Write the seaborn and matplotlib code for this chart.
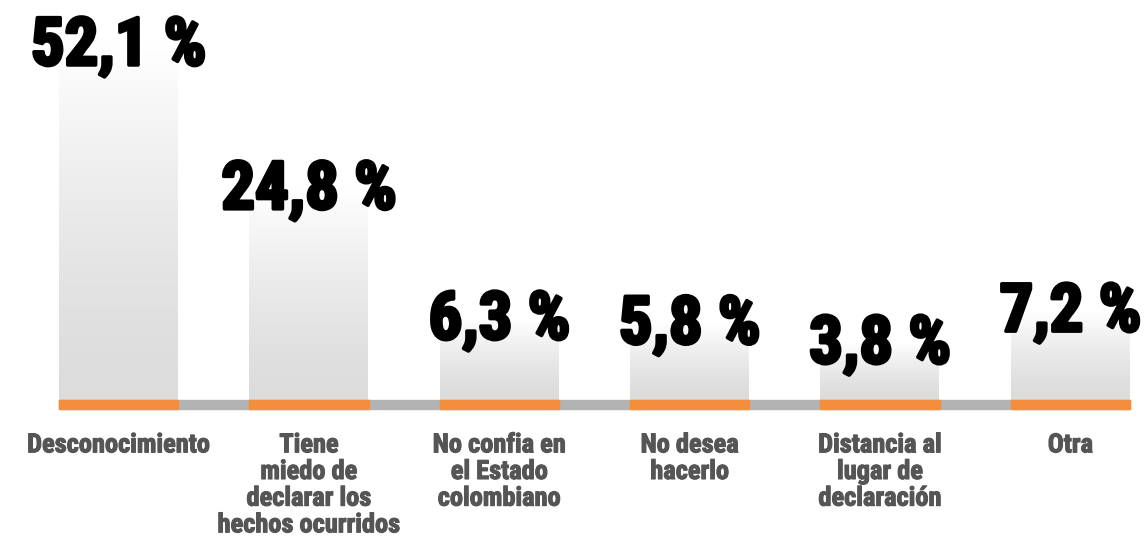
import matplotlib
matplotlib.use('Agg')
import matplotlib.pyplot as plt
import matplotlib.patheffects as pe
import matplotlib.transforms as mtransforms
from matplotlib import font_manager as fm
from matplotlib.patches import Rectangle
from matplotlib.colors import LinearSegmentedColormap
import numpy as np
import pandas as pd
import seaborn as sns

categorias = ['Desconocimiento',
              'Tiene\nmiedo de\ndeclarar los\nhechos ocurridos',
              'No confia en\nel Estado\ncolombiano',
              'No desea\nhacerlo',
              'Distancia al\nlugar de\ndeclaración',
              'Otra']
porcentajes = [52.1, 24.8, 6.3, 5.8, 3.8, 7.2]
etiquetas = ['52,1 %', '24,8 %', '6,3 %', '5,8 %', '3,8 %', '7,2 %']


def _fuente_estrecha():
    # look for a condensed / narrow bold face among the installed fonts
    for f in fm.fontManager.ttflist:
        if f.name in ('Roboto Condensed', 'Liberation Sans Narrow', 'Open Sans Condensed',
                      'DejaVu Sans Condensed', 'Noto Sans Condensed'):
            return f.name, 'normal'
    for f in fm.fontManager.ttflist:
        if f.stretch in ('condensed', 'semi-condensed', 'extra-condensed') and f.weight in (700, 'bold'):
            return f.name, f.stretch
    return None, None


familia, estiramiento = _fuente_estrecha()

sns.set_theme(style='white')
if familia:
    plt.rcParams['font.family'] = [familia, 'DejaVu Sans']
    plt.rcParams['font.stretch'] = estiramiento
    tam_valor, tam_cat = 48, 19
else:
    plt.rcParams['font.family'] = ['DejaVu Sans']
    tam_valor, tam_cat = 35, 14

df = pd.DataFrame({'causa': categorias, 'pct': porcentajes})

ancho = 0.626
fig = plt.figure(figsize=(11.47, 5.37), dpi=100)
ax = fig.add_axes([59 / 1147, 137 / 537, 1071 / 1147, 355 / 537])

sns.barplot(data=df, x='causa', y='pct', width=ancho, color='#dddddd', ax=ax)

# the infographic is not to scale, a power scale gets close to it
ax.set_yscale('function', functions=(lambda y: np.sign(y) * np.abs(y) ** 0.7,
                                     lambda y: np.sign(y) * np.abs(y) ** (1 / 0.7)))

cmap = LinearSegmentedColormap.from_list('grad', ['#ffffff', '#dcdcdc'])
grad = np.linspace(0, 1, 256).reshape(-1, 1)
barras = list(ax.patches)
for bar in barras:
    x0, w, h = bar.get_x(), bar.get_width(), bar.get_height()
    im = ax.imshow(grad, cmap=cmap, extent=(x0, x0 + w, 0, h), aspect='auto',
                   origin='upper', zorder=1)
    im.set_clip_path(bar)
    bar.set_facecolor('none')
    bar.set_edgecolor('none')

ax.set_xlim(-ancho / 2, len(categorias) - 1 + ancho / 2)
ax.set_ylim(0, max(porcentajes))

# baseline strip: gray between bars, orange under each bar
trans = mtransforms.blended_transform_factory(ax.transData, ax.transAxes)
s = 9 / 355
ax.add_patch(Rectangle((-ancho / 2, -s), len(categorias) - 1 + ancho, s,
                       transform=trans, color='#b3b3b3', clip_on=False, zorder=3))
for bar in barras:
    ax.add_patch(Rectangle((bar.get_x(), -s), bar.get_width(), s,
                           transform=trans, color='#f28e3c', clip_on=False, zorder=4))

for i, (v, t) in enumerate(zip(porcentajes, etiquetas)):
    ax.annotate(t, xy=(i, v), xytext=(0, -20), textcoords='offset pixels',
                ha='center', va='baseline', fontsize=tam_valor, fontweight='bold',
                color='black', annotation_clip=False, zorder=5,
                path_effects=[pe.withStroke(linewidth=2.5, foreground='black')])

ax.set_xticks(range(len(categorias)))
ax.set_xticklabels(categorias, fontsize=tam_cat, fontweight='bold', color='#555555',
                   linespacing=1.14)
for lab in ax.get_xticklabels():
    lab.set_path_effects([pe.withStroke(linewidth=0.8, foreground='#555555')])
ax.tick_params(axis='x', length=0, pad=24)
ax.set_yticks([])
ax.set_xlabel('')
ax.set_ylabel('')
sns.despine(ax=ax, left=True, bottom=True)

fig.savefig('out.png', dpi=100)
